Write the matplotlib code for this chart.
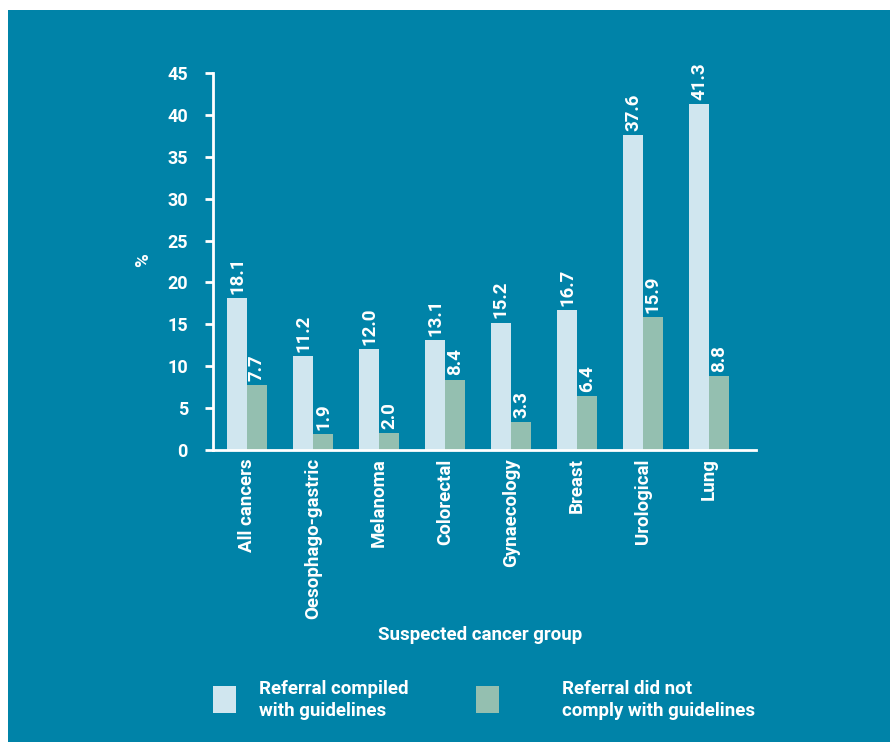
import matplotlib
matplotlib.use("Agg")
import matplotlib.pyplot as plt
from matplotlib.patches import Rectangle
import numpy as np

categories = ["All cancers", "Oesophago-gastric", "Melanoma", "Colorectal",
              "Gynaecology", "Breast", "Urological", "Lung"]
complied = [18.1, 11.2, 12.0, 13.1, 15.2, 16.7, 37.6, 41.3]
not_complied = [7.7, 1.9, 2.0, 8.4, 3.3, 6.4, 15.9, 8.8]
yticks = [0, 5, 10, 15, 20, 25, 30, 35, 40, 45]
legend_labels = ["Referral compiled\nwith guidelines", "Referral did not\ncomply with guidelines"]

BG = "#0083A8"
C1 = "#D0E6EF"
C2 = "#94BFB0"
FONT = ["Roboto", "DejaVu Sans"]
FS = 13.5

W, H = 890, 742
fig = plt.figure(figsize=(W/100, H/100), dpi=100)
fig.patch.set_facecolor("white")
fig.patches.append(Rectangle((8/W, 0), 1, 1 - 10/H, transform=fig.transFigure,
                             facecolor=BG, edgecolor="none", zorder=-10))

ax_l, ax_r, ax_b, ax_t = 213, 756, 450, 73
ax = fig.add_axes([ax_l/W, (H-ax_b)/H, (ax_r-ax_l)/W, (ax_b-ax_t)/H])
ax.set_facecolor("none")

x = np.arange(len(categories))
bw = 20/66
ax.bar(x - bw/2, complied, width=bw, color=C1)
ax.bar(x + bw/2, not_complied, width=bw, color=C2)

for xi, v in zip(x - bw/2, complied):
    ax.text(xi, v + 0.5, f"{v:.1f}", rotation=90, ha="center", va="bottom",
            color="white", fontsize=FS, fontweight="bold", family=FONT)
for xi, v in zip(x + bw/2, not_complied):
    ax.text(xi, v + 0.5, f"{v:.1f}", rotation=90, ha="center", va="bottom",
            color="white", fontsize=FS, fontweight="bold", family=FONT)

ax.set_xlim((ax_l-247)/66, (ax_r-247)/66)
ax.set_ylim(0, 45)
ax.set_yticks(yticks)
ax.set_yticklabels([str(t) for t in yticks])
ax.set_xticks(x)
ax.set_xticklabels(categories, rotation=90, va="top", ha="center")
ax.tick_params(axis="x", length=0, pad=6)
ax.tick_params(axis="y", length=6, width=2, color="white", pad=12)
for lab in ax.get_xticklabels() + ax.get_yticklabels():
    lab.set_color("white")
    lab.set_fontsize(FS)
    lab.set_fontweight("bold")
    lab.set_family(FONT)
for lab in ax.get_yticklabels():
    lab.set_fontsize(13)
for s in ["top", "right"]:
    ax.spines[s].set_visible(False)
for s in ["left", "bottom"]:
    ax.spines[s].set_color("white")
    ax.spines[s].set_linewidth(2)

fig.text(143/W, (H-260)/H, "%", rotation=90, ha="center", va="center",
         color="white", fontsize=FS, fontweight="bold", family=FONT)
fig.text(480/W, (H-635)/H, "Suspected cancer group", ha="center", va="center",
         color="white", fontsize=FS, fontweight="bold", family=FONT)

# legend
fig.patches.append(Rectangle((213/W, (H-713)/H), 23/W, 27/H, transform=fig.transFigure,
                             facecolor=C1, edgecolor="none"))
fig.patches.append(Rectangle((476/W, (H-713)/H), 23/W, 27/H, transform=fig.transFigure,
                             facecolor=C2, edgecolor="none"))
fig.text(259/W, (H-700)/H, legend_labels[0], ha="left", va="center", color="white",
         fontsize=FS, fontweight="bold", family=FONT, linespacing=1.3)
fig.text(562/W, (H-700)/H, legend_labels[1], ha="left", va="center", color="white",
         fontsize=FS, fontweight="bold", family=FONT, linespacing=1.3)

fig.savefig("out.png", dpi=100, facecolor=fig.get_facecolor())
